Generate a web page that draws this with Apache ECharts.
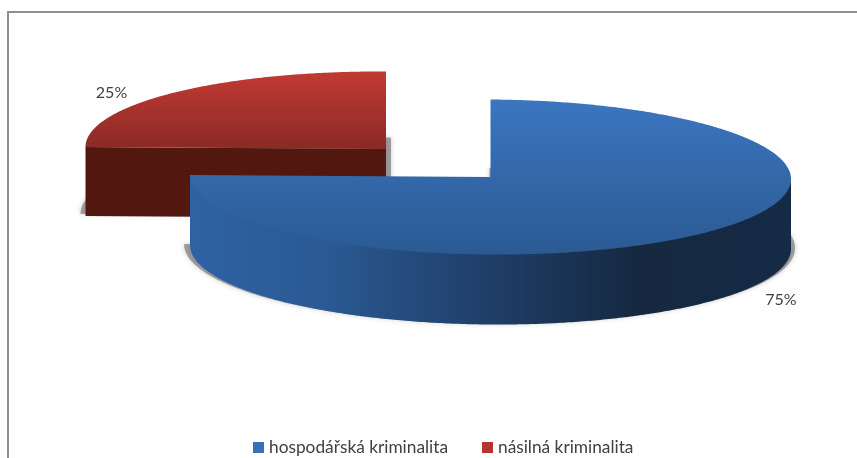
<!DOCTYPE html>
<html><head><meta charset="utf-8">
<style>html,body{margin:0;padding:0;background:#fff}#c{width:857px;height:458px}</style>
<script src="https://cdn.jsdelivr.net/npm/echarts@6/dist/echarts.min.js"></script>
</head><body><div id="c"></div>
<script>
var categories = ['hospodářská kriminalita', 'násilná kriminalita'];
var shares = [75, 25];

var total = shares.reduce(function (a, b) { return a + b; }, 0);
var chart = echarts.init(document.getElementById('c'), null, { renderer: 'canvas' });
var TILT = 0.0067;
var layouts = [
  { cx: 490.5, cy: 177, rx: 300.5, ry: 77.5, depth: 70, shadow: { dx: -1, dy: 69, grow: 5 }, labelDx: 78, labelDy: 67 },
  { cx: 386, cy: 149, rx: 300.5, ry: 77.5, depth: 69, shadow: { dx: 5, dy: 67, grow: 10 }, labelDx: -62, labelDy: 0 }
];
var topStops = [['#3b76c0', '#2b5a93'], ['#c13a32', '#8a2a26']];
var wallStops = [
  [{ offset: 0, color: '#2e62a3' }, { offset: 0.22, color: '#2b5a94' }, { offset: 0.5, color: '#1f3e67' },
   { offset: 0.75, color: '#15283f' }, { offset: 1, color: '#152a46' }],
  [{ offset: 0, color: '#52170f' }, { offset: 1, color: '#52170f' }]
];
var cutColor = '#52170f';
var shadowColor = 'rgba(110,110,110,0.6)';

function startOf(i) {
  var sum = 0;
  for (var k = 0; k < i; k++) sum += shares[k];
  return sum / total * Math.PI * 2;
}
function pt(L, a, dy, grow, dx) {
  var rx = L.rx + (grow || 0), ry = L.ry + (grow || 0) * 0.1;
  return [L.cx + (dx || 0) + rx * Math.sin(a),
          L.cy + (dy || 0) - ry * Math.cos(a) + TILT * rx * Math.sin(a)];
}
function arc(L, a0, a1, dy, grow, dx) {
  var pts = [], n = Math.max(8, Math.ceil(Math.abs(a1 - a0) / 0.01));
  for (var i = 0; i <= n; i++) pts.push(pt(L, a0 + (a1 - a0) * i / n, dy, grow, dx));
  return pts;
}
function renderSlice(i) {
  return function () {
    var L = layouts[i];
    var a0 = startOf(i), a1 = a0 + shares[i] / total * Math.PI * 2;
    var children = [];
    var center = [L.cx, L.cy];
    var s = L.shadow;
    children.push({
      type: 'polygon',
      shape: { points: arc(L, a0, a1, s.dy, s.grow, s.dx).concat([[L.cx + s.dx, L.cy + s.dy]]) },
      style: { fill: shadowColor, shadowBlur: 5, shadowColor: shadowColor }
    });
    var w0 = Math.max(a0, Math.PI / 2), w1 = Math.min(a1, Math.PI * 1.5);
    if (w1 > w0) {
      children.push({
        type: 'polygon',
        shape: { points: arc(L, w0, w1, -2).concat(arc(L, w1, w0, L.depth)) },
        style: { fill: new echarts.graphic.LinearGradient(0, 0, 1, 0, wallStops[i]) }
      });
    }
    if (a0 >= Math.PI && a0 <= Math.PI * 1.5 + 1e-6) {
      var p = pt(L, a0, 0);
      children.push({
        type: 'polygon',
        shape: { points: [p, center, [center[0], center[1] + L.depth], [p[0], p[1] + L.depth]] },
        style: { fill: cutColor }
      });
    }
    children.push({
      type: 'polygon',
      shape: { points: arc(L, a0, a1, 0).concat([center]) },
      style: { fill: new echarts.graphic.LinearGradient(0, 0, 0, 1, [
        { offset: 0, color: topStops[i][0] }, { offset: 1, color: topStops[i][1] }
      ]) }
    });
    var mid = pt(L, (a0 + a1) / 2, 0);
    children.push({
      type: 'text',
      style: {
        x: mid[0] + L.labelDx, y: mid[1] + L.labelDy,
        text: shares[i] + '%', align: 'center', verticalAlign: 'middle',
        fill: '#404040', font: '16px Lato'
      }
    });
    return { type: 'group', children: children };
  };
}

chart.setOption({
  animation: false,
  backgroundColor: '#fff',
  color: ['#3a70b5', '#b5352f'],
  legend: {
    data: categories, left: 248, top: 434, itemWidth: 11, itemHeight: 11, itemGap: 34,
    icon: 'rect', textStyle: { fontFamily: 'Lato', fontSize: 17.3, color: '#404040' }, selectedMode: false
  },
  graphic: [{
    type: 'polyline', silent: true, z: 0,
    shape: { points: [[8, 458], [8, 12], [857, 12]] },
    style: { stroke: '#8f8f8f', lineWidth: 2, fill: null }
  }],
  series: categories.map(function (name, i) {
    return {
      type: 'custom', name: name, coordinateSystem: 'none', z: 5 - i,
      data: [shares[i]], renderItem: renderSlice(i), silent: true, clip: false
    };
  })
});
</script></body></html>
